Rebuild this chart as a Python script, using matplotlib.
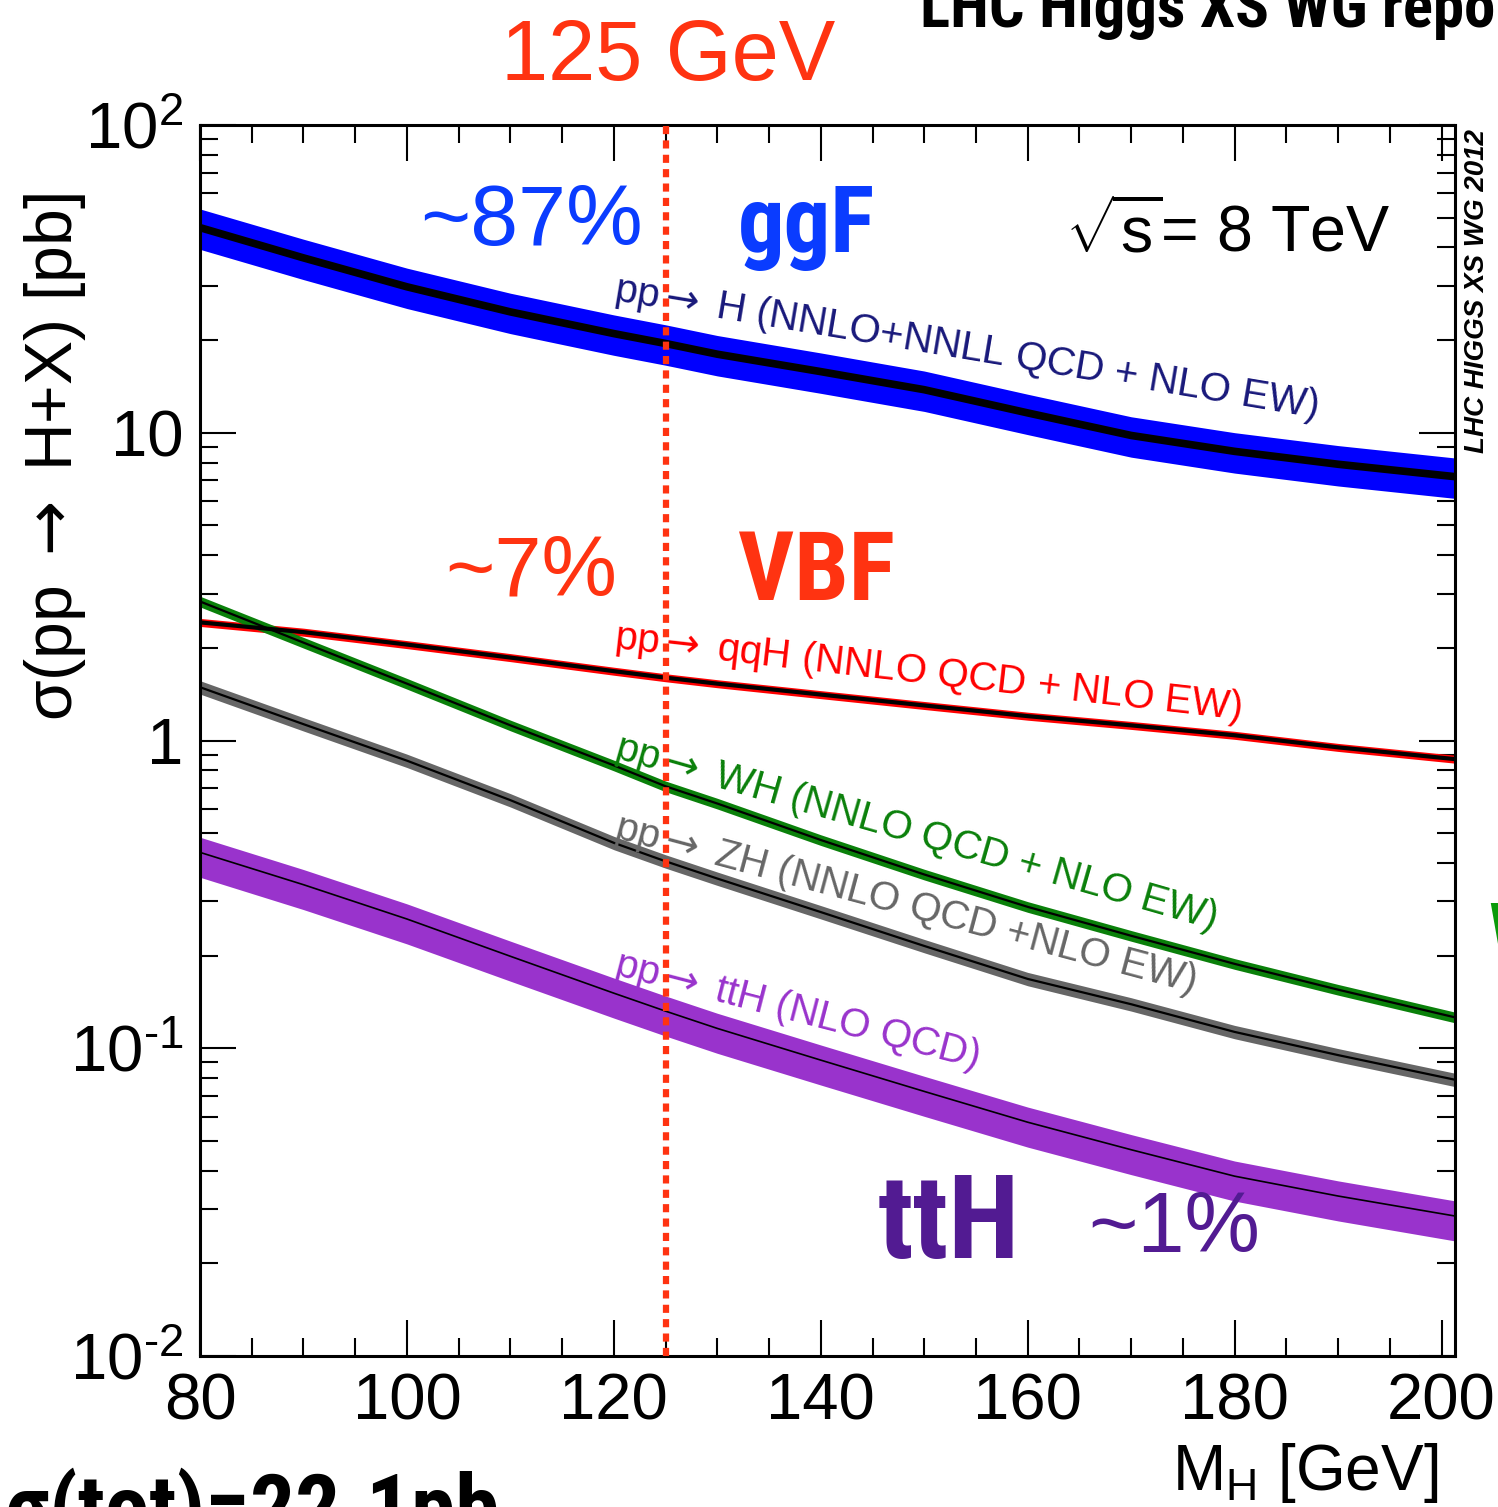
import numpy as np
import matplotlib.pyplot as plt
from matplotlib import font_manager

# font setup (Helvetica-like), DejaVu only for the arrows
plt.rcParams['font.family'] = ['Liberation Sans', 'DejaVu Sans']
plt.rcParams['mathtext.fontset'] = 'custom'
plt.rcParams['mathtext.rm'] = 'Liberation Sans'
plt.rcParams['mathtext.it'] = 'Liberation Sans:italic'
plt.rcParams['mathtext.bf'] = 'Liberation Sans:bold'
plt.rcParams['mathtext.sf'] = 'DejaVu Sans'

# Higgs mass points [GeV]
mass = [80, 90, 100, 110, 120, 125, 130, 140, 150, 160, 170, 180, 190, 201.3]

# cross sections [pb]
xs_ggf = [46.4, 37.0, 29.8, 24.7, 21.0, 19.5, 18.0, 15.8, 13.8, 11.6, 9.8, 8.7, 7.9, 7.2]
xs_vbf = [2.42, 2.25, 2.05, 1.86, 1.68, 1.60, 1.53, 1.41, 1.30, 1.20, 1.12, 1.04, 0.95, 0.87]
xs_wh = [2.83, 2.08, 1.53, 1.12, 0.83, 0.71, 0.624, 0.475, 0.367, 0.288, 0.232, 0.188, 0.155, 0.126]
xs_zh = [1.49, 1.13, 0.86, 0.64, 0.465, 0.405, 0.356, 0.277, 0.215, 0.168, 0.139, 0.113, 0.095, 0.079]
xs_tth = [0.433, 0.34, 0.263, 0.199, 0.151, 0.132, 0.116, 0.0915, 0.0724, 0.0575, 0.0468, 0.0384, 0.0331, 0.0285]

# relative uncertainty (up, down)
unc_ggf = (0.15, 0.15)
unc_vbf = (0.03, 0.03)
unc_wh = (0.04, 0.04)
unc_zh = (0.05, 0.05)
unc_tth = (0.12, 0.17)

arrow = r'$\mathsf{\rightarrow}$'
labels = ['pp' + arrow + ' H (NNLO+NNLL QCD + NLO EW)',
          'pp' + arrow + ' qqH (NNLO QCD + NLO EW)',
          'pp' + arrow + ' WH (NNLO QCD + NLO EW)',
          'pp' + arrow + ' ZH (NNLO QCD +NLO EW)',
          'pp' + arrow + ' ttH (NLO QCD)']
label_x = [119.9, 119.9, 119.9, 119.9, 119.9]
label_y = [27.0, 2.0, 0.88, 0.484, 0.174]
label_rot = [-9.5, -6.5, -16, -15, -14.5]

W, H = 1498, 1507


def pos(px, py):
    # reference pixel -> figure fraction
    return px / W, 1 - py / H


def narrow_font():
    # look for a condensed bold face for the hand-written style words
    best = None
    for f in font_manager.fontManager.ttflist:
        n = f.fname.lower().replace('-', '').replace('_', '')
        if ('condensed' in n or 'narrow' in n) and 'bold' in n \
                and 'italic' not in n and 'oblique' not in n \
                and 'semi' not in n and 'extra' not in n:
            if best is None or 'extrabold' not in n:
                best = f.fname
    if best:
        return font_manager.FontProperties(fname=best)
    return font_manager.FontProperties(family='DejaVu Sans', weight='bold')


fig = plt.figure(figsize=(W / 100, H / 100), dpi=100)
ax = fig.add_axes([200 / W, 1 - 1356 / H, 1255 / W, 1231 / H])

procs = [
    (xs_ggf, unc_ggf, '#0000FF', 5.5, '#18187A'),
    (xs_vbf, unc_vbf, '#FF0000', 3.0, '#FF0000'),
    (xs_wh, unc_wh, '#0A800A', 1.6, '#0A800A'),
    (xs_zh, unc_zh, '#666666', 1.6, '#666666'),
    (xs_tth, unc_tth, '#9933CC', 1.2, '#9933CC'),
]

m = np.array(mass)
for i, (xs, unc, col, lw, tcol) in enumerate(procs):
    xs = np.array(xs)
    ax.fill_between(m, xs * (1 - unc[1]), xs * (1 + unc[0]), color=col, lw=0, zorder=2)
    ax.plot(m, xs, color='k', lw=lw, zorder=3)
    ax.text(label_x[i], label_y[i], labels[i], color=tcol, fontsize=29,
            rotation=label_rot[i], rotation_mode='anchor', ha='left', va='baseline',
            zorder=5)

# 125 GeV line
ax.axvline(125, color='#FF3311', lw=4.5, ls=(0, (1.3, 1.0)), zorder=6)

ax.set_yscale('log')
ax.set_xlim(80, 201.3)
ax.set_ylim(1e-2, 1e2)
ax.set_xticks([80, 100, 120, 140, 160, 180, 200])
ax.set_xticks(np.arange(80, 201, 5), minor=True)
ax.set_xticklabels(['80', '100', '120', '140', '160', '180', '200'])
ax.set_yticks([1e-2, 1e-1, 1, 10, 1e2])
ax.set_yticklabels([r'$10^{\text{-}2}$', r'$10^{\text{-}1}$', '1', '10', r'$10^{2}$'])
ax.tick_params(which='both', direction='in', top=True, right=True, width=1.5)
ax.tick_params(which='major', length=26, labelsize=47, pad=12)
ax.tick_params(which='minor', length=13)
for s in ax.spines.values():
    s.set_linewidth(2.2)

# axis titles
fig.text(*pos(55, 457), '\u03c3(pp ' + arrow + ' H+X) [pb]', rotation=90, fontsize=47.5,
         ha='center', va='center')
fig.text(*pos(1438, 1490), r'M$_{\rm H}$ [GeV]', fontsize=46, ha='right', va='baseline')

# annotations
fig.text(*pos(668, 80), '125 GeV', color='#FF3311', fontsize=61, ha='center', va='baseline')
fig.text(*pos(420, 245), '~87%', color='#0A3CFF', fontsize=62, va='baseline')
fig.text(*pos(1065, 252), r'$\sqrt{\mathrm{s}}$= 8 TeV', fontsize=46.5, va='baseline')
fig.text(*pos(445, 595), '~7%', color='#FF3311', fontsize=61, va='baseline')
fig.text(*pos(1088, 1252), '~1%', color='#521B92', fontsize=61, va='baseline')
fig.text(*pos(1477, 291), 'LHC HIGGS XS WG 2012', rotation=90, fontsize=20,
         fontweight='bold', style='italic', ha='center', va='center')

# hand-written style words, scaled to the reference width
renderer = fig.canvas.get_renderer()


def cartoon(px, py, s, width, color='k', va='baseline', measure=None):
    t = fig.text(*pos(px, py), measure or s, color=color, fontproperties=narrow_font(),
                 va=va)
    t.set_fontsize(40)
    w = t.get_window_extent(renderer).width
    t.set_fontsize(40 * width / w)
    t.set_text(s)
    return t


cartoon(738, 252, 'ggF', 137, '#0A3CFF')
cartoon(738, 600, 'VBF', 157, '#FF3311')
cartoon(878, 1258, 'ttH', 142, '#521B92')
# texts cut off by the figure edges in the reference
cartoon(920, 27, 'LHC Higgs XS WG report', 575, measure='LHC Higgs XS WG repo')
cartoon(5, 1468, '\u03c3(tot)=22.1pb', 495, va='top')
cartoon(1488, 900, 'WH', 110, '#0A9A0A', va='top')

fig.savefig('out.png', dpi=100)
